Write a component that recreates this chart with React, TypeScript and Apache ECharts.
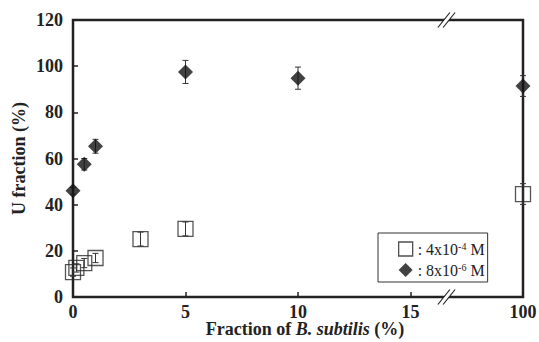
import React, { useEffect, useRef } from "react";
import * as echarts from "echarts";

// Data (x in % of B. subtilis; 100 sits after the axis break)
const squareX = [0, 0.15, 0.5, 1, 3, 5, 100];
const squareY = [10.8, 12.6, 14.7, 16.9, 25.1, 29.5, 44.6];
const squareErr = [1.8, 1.8, 2, 2, 3, 3, 4.5];

const diamondX = [0, 0.5, 1, 5, 10, 100];
const diamondY = [46, 57.5, 65.3, 97.5, 94.8, 91.4];
const diamondErr = [1.5, 2.5, 3, 5, 4.8, 4.5];

const xTicks = [0, 5, 10, 15, 100];
const yTicks = [0, 20, 40, 60, 80, 100, 120];

const BREAK_AT = 20; // axis position where the value 100 is drawn
const BREAK_MARK = 16.6; // axis position of the break marks
const toAxis = (x: number) => (x >= 100 ? BREAK_AT : x);

const FONT = "Liberation Serif";
const INK = "#222";

function errSeries(xs: number[], ys: number[], es: number[]) {
  return {
    type: "custom",
    silent: true,
    z: 3,
    data: xs.map((x, i) => [toAxis(x), ys[i], es[i]]),
    renderItem: (params: any, api: any) => {
      const x = api.value(0);
      const y = api.value(1);
      const e = api.value(2);
      const top = api.coord([x, y + e]);
      const bot = api.coord([x, y - e]);
      const cap = 3;
      const style = { stroke: "#333", lineWidth: 1 };
      return {
        type: "group",
        children: [
          { type: "line", shape: { x1: top[0], y1: top[1], x2: bot[0], y2: bot[1] }, style },
          { type: "line", shape: { x1: top[0] - cap, y1: top[1], x2: top[0] + cap, y2: top[1] }, style },
          { type: "line", shape: { x1: bot[0] - cap, y1: bot[1], x2: bot[0] + cap, y2: bot[1] }, style },
        ],
      };
    },
  };
}

export default function App() {
  const ref = useRef<HTMLDivElement>(null);
  useEffect(() => {
    if (!ref.current) return;
    const chart = echarts.init(ref.current, null, { renderer: "svg" });
    const labelStyle = { color: INK, fontFamily: FONT, fontWeight: "bold", fontSize: 18 };
    const SQ = "4x10-4 M";
    const DI = "8x10-6 M";
    chart.setOption({
      animation: false,
      grid: {
        left: 73,
        right: 16,
        top: 20,
        bottom: 45,
        show: true,
        borderColor: INK,
        borderWidth: 2.5,
        backgroundColor: "transparent",
        containLabel: false,
        outerBoundsMode: "none",
      },
      xAxis: {
        type: "value",
        min: 0,
        max: BREAK_AT,
        interval: 5,
        axisLine: { show: false },
        axisTick: { show: true, inside: true, length: 5, lineStyle: { color: INK, width: 1.5 } },
        splitLine: { show: false },
        axisLabel: {
          ...labelStyle,
          margin: 6,
          formatter: (v: number) => {
            const idx = [0, 5, 10, 15, BREAK_AT].indexOf(v);
            return idx >= 0 ? String(xTicks[idx]) : "";
          },
        },
        name: "Fraction of {bi|B. subtilis} (%)",
        nameLocation: "middle",
        nameGap: 23,
        nameMoveOverlap: false,
        nameTextStyle: {
          color: INK,
          fontFamily: FONT,
          fontWeight: "bold",
          fontSize: 18,
          padding: [0, 0, 0, 14],
          rich: {
            bi: { fontFamily: FONT, fontWeight: "bold", fontStyle: "italic", fontSize: 18, color: INK },
          },
        },
      },
      yAxis: {
        type: "value",
        min: yTicks[0],
        max: yTicks[yTicks.length - 1],
        interval: 20,
        axisLine: { show: false },
        axisTick: { show: true, inside: true, length: 5, lineStyle: { color: INK, width: 1.5 } },
        splitLine: { show: false },
        axisLabel: { ...labelStyle, margin: 10 },
        name: "U fraction (%)",
        nameLocation: "middle",
        nameGap: 45,
        nameMoveOverlap: false,
        nameTextStyle: { color: INK, fontFamily: FONT, fontWeight: "bold", fontSize: 18 },
      },
      legend: {
        left: 378,
        top: 233,
        orient: "vertical",
        width: 110,
        borderColor: "#333",
        borderWidth: 1,
        borderRadius: 0,
        padding: [8, 3, 4, 20],
        itemGap: 5,
        itemWidth: 14,
        itemHeight: 14,
        data: [
          { name: SQ, icon: "rect", itemStyle: { color: "#fff", borderColor: "#222", borderWidth: 1.3 } },
          { name: DI, icon: "diamond", itemStyle: { color: "#111" } },
        ],
        formatter: (name: string) =>
          name === SQ ? ": 4x10{sup|-4} M" : ": 8x10{sup|-6} M",
        textStyle: {
          color: INK,
          fontFamily: FONT,
          fontSize: 16,
          rich: {
            sup: { fontFamily: FONT, fontSize: 10, verticalAlign: "bottom", padding: [0, 0, 6, 0], color: INK },
          },
        },
      },
      series: [
        errSeries(squareX, squareY, squareErr),
        {
          name: SQ,
          type: "scatter",
          symbol: "rect",
          symbolSize: 15,
          z: 2,
          itemStyle: { color: "rgba(0,0,0,0)", borderColor: "#2a2a2a", borderWidth: 1.3 },
          data: squareX.map((x, i) => [toAxis(x), squareY[i]]),
        },
        errSeries(diamondX, diamondY, diamondErr),
        {
          name: DI,
          type: "scatter",
          symbol: "diamond",
          symbolSize: 15,
          z: 4,
          itemStyle: { color: "#111" },
          data: diamondX.map((x, i) => [toAxis(x), diamondY[i]]),
        },
      ],
    });

    const xb = chart.convertToPixel({ xAxisIndex: 0 }, BREAK_MARK) as number;
    const yB = chart.convertToPixel({ yAxisIndex: 0 }, 0) as number;
    const yT = chart.convertToPixel({ yAxisIndex: 0 }, 120) as number;
    const dx = 6;
    const dy = 7.5;
    const sep = 2.6;
    const marks: any[] = [];
    [yB, yT].forEach((y) => {
      marks.push({
        type: "polygon",
        z: 100,
        shape: {
          points: [
            [xb - sep - dx * 0.4, y + dy * 0.4],
            [xb - sep + dx * 0.4, y - dy * 0.4],
            [xb + sep + dx * 0.4, y - dy * 0.4],
            [xb + sep - dx * 0.4, y + dy * 0.4],
          ],
        },
        style: { fill: "#fff" },
      });
      [-sep, sep].forEach((o) => {
        marks.push({
          type: "line",
          z: 101,
          shape: { x1: xb + o - dx, y1: y + dy, x2: xb + o + dx, y2: y - dy },
          style: { stroke: INK, lineWidth: 1.2 },
        });
      });
    });
    chart.setOption({ graphic: marks });

    return () => chart.dispose();
  }, []);
  return (
    <div
      ref={ref}
      style={{ position: "fixed", left: 0, top: 0, width: 539, height: 342, background: "#fff" }}
    />
  );
}
